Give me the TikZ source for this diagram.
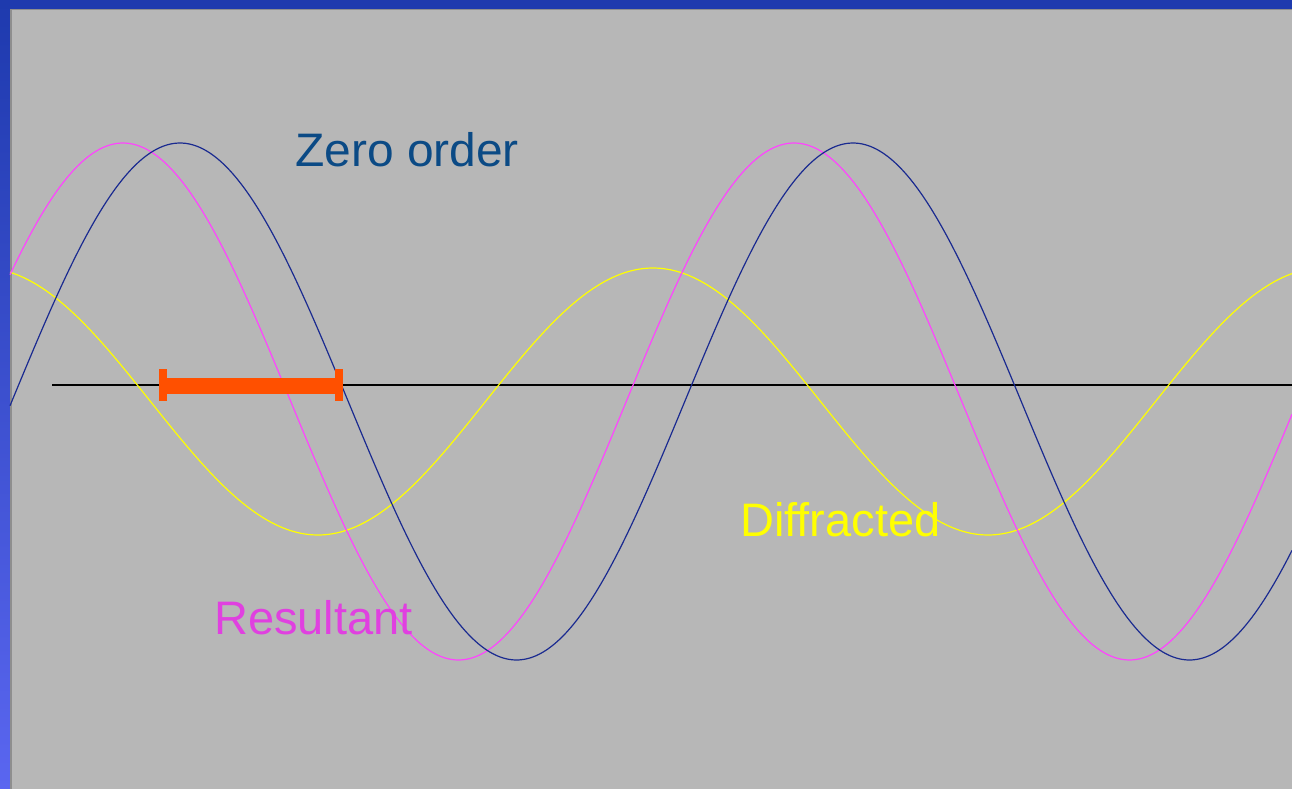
\documentclass[tikz,border=0pt]{standalone}
\usepackage{fontspec}
\setmainfont{Liberation Sans}
\definecolor{bggray}{HTML}{B7B7B7}
\definecolor{edgegray}{HTML}{8E8E8E}
\definecolor{bluetop}{HTML}{1E3AAE}
\definecolor{bluebot}{HTML}{5A66F0}
\definecolor{zerocol}{HTML}{1A2A90}
\definecolor{zerotext}{HTML}{0B4A85}
\definecolor{rescol}{HTML}{FF44FF}
\definecolor{restext}{HTML}{E040E0}
\definecolor{difcol}{HTML}{FFFF00}
\definecolor{barcol}{HTML}{FF5000}
\tikzset{
  wave/.style={line width=1.2pt, smooth},
  lbl/.style={anchor=base west, inner sep=0pt, font=\fontsize{47}{56}\selectfont},
}
\begin{document}
\begin{tikzpicture}[x=1pt,y=-1pt]
\useasboundingbox (0,0) rectangle (1292,789);
% background
\shade[top color=bluetop, bottom color=bluebot] (0,0) rectangle (10,789);
\fill[bluetop] (0,0) rectangle (1292,9);
\fill[bggray] (10,9) rectangle (1292,789);
\draw[edgegray, line width=1.5pt] (10.75,789) -- (10.75,9.75) -- (1292,9.75);
% axis
\draw[black, line width=2.6pt] (52,385) coordinate (axl) -- (1292,385) coordinate (axr);
% waves
\draw[wave, difcol] plot[domain=10:1292, samples=200] (\x, {401.5 + 133.5*cos((\x-318)/670*360)});
\draw[wave, rescol] plot[domain=10:1292, samples=220] (\x, {401.5 - 258.5*cos((\x-123)/671*360)});
\draw[wave, zerocol] plot[domain=10:1292, samples=220] (\x, {401.5 - 258.5*cos((\x-180)/673*360)});
% orange bar
\fill[barcol] (159,377.5) rectangle (343,393.5);
\fill[barcol] (159,369) rectangle (167,401);
\fill[barcol] (335,369) rectangle (343,401);
% labels
\node[lbl, text=zerotext, xscale=1.02] (zero) at (295,166) {Zero order};
\node[lbl, text=restext] (res) at (214,634) {Resultant};
\node[lbl, text=difcol] (dif) at (740,536) {Diffracted};
\end{tikzpicture}
\end{document}
